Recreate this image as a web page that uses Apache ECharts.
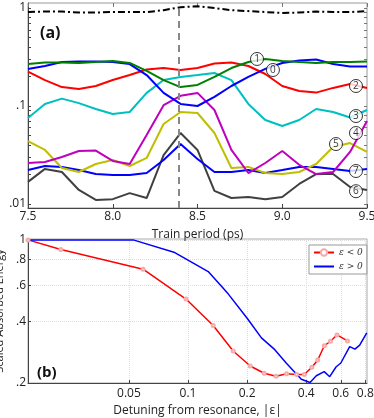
<!DOCTYPE html>
<html>
<head>
<meta charset="utf-8">
<script src="https://cdn.jsdelivr.net/npm/echarts@6/dist/echarts.min.js"></script>
<style>
html, body { margin: 0; padding: 0; background: #fff; }
#chart { width: 374px; height: 418px; }
</style>
</head>
<body>
<div id="chart"></div>
<script>
// ---- panel (a): rotational populations vs train period ----
const periods = [7.5, 7.6, 7.7, 7.8, 7.9, 8.0, 8.1, 8.2, 8.3, 8.4, 8.5, 8.6, 8.7, 8.8, 8.9, 9.0, 9.1, 9.2, 9.3, 9.4, 9.5];
const popTotal = [0.91, 0.92, 0.92, 0.90, 0.90, 0.91, 0.91, 0.91, 0.95, 1.02, 1.04, 1.0, 0.95, 0.93, 0.91, 0.89, 0.90, 0.92, 0.91, 0.91, 0.93];
const popJ0 = [0.239, 0.256, 0.281, 0.285, 0.285, 0.281, 0.268, 0.207, 0.136, 0.105, 0.100, 0.124, 0.160, 0.198, 0.239, 0.275, 0.291, 0.298, 0.268, 0.253, 0.253];
const popJ1 = [0.268, 0.278, 0.278, 0.275, 0.281, 0.288, 0.275, 0.228, 0.184, 0.156, 0.164, 0.198, 0.244, 0.281, 0.302, 0.288, 0.281, 0.275, 0.281, 0.281, 0.285];
const popJ2 = [0.224, 0.184, 0.156, 0.149, 0.160, 0.184, 0.207, 0.236, 0.244, 0.233, 0.244, 0.271, 0.278, 0.256, 0.212, 0.160, 0.142, 0.137, 0.153, 0.168, 0.153];
const popJ3 = [0.0755, 0.105, 0.119, 0.107, 0.0932, 0.0829, 0.0869, 0.136, 0.184, 0.198, 0.207, 0.217, 0.184, 0.105, 0.072, 0.0625, 0.072, 0.0932, 0.0869, 0.0763, 0.091];
const popJ4 = [0.0262, 0.0268, 0.0302, 0.0347, 0.0351, 0.0275, 0.0256, 0.0506, 0.102, 0.127, 0.136, 0.091, 0.0356, 0.0207, 0.0262, 0.0347, 0.0251, 0.0202, 0.0212, 0.034, 0.0703];
const popJ5 = [0.0439, 0.0356, 0.0233, 0.0212, 0.0256, 0.0281, 0.0244, 0.0295, 0.0655, 0.0869, 0.0848, 0.053, 0.0233, 0.0239, 0.0207, 0.0202, 0.0212, 0.0256, 0.0382, 0.0419, 0.034];
const popJ6 = [0.0168, 0.0228, 0.0212, 0.0139, 0.011, 0.0112, 0.0129, 0.0115, 0.0316, 0.053, 0.0356, 0.0136, 0.0115, 0.0118, 0.0112, 0.0118, 0.016, 0.0202, 0.0202, 0.0149, 0.0139];
const popJ7 = [0.0222, 0.0244, 0.0239, 0.0222, 0.0202, 0.0198, 0.0198, 0.0207, 0.0281, 0.041, 0.0288, 0.0212, 0.0212, 0.0222, 0.0207, 0.0222, 0.0239, 0.0239, 0.0228, 0.0217, 0.0228];
// circled J labels: [text, period, population]
const levelTags = [
  ['1', 8.851, 0.302], ['0', 8.945, 0.233], ['2', 9.435, 0.160], ['3', 9.435, 0.079],
  ['4', 9.435, 0.053], ['5', 9.317, 0.0409], ['7', 9.435, 0.0217], ['6', 9.435, 0.0135]
];
const markedPeriod = 8.39;
const popTicks = [0.01, 0.02, 0.03, 0.04, 0.05, 0.06, 0.07, 0.08, 0.09, 0.1, 0.2, 0.3, 0.4, 0.5, 0.6, 0.7, 0.8, 0.9, 1];
const popLabels = [0.01, 0.1, 1];

// ---- panel (b): scaled absorbed energy vs detuning ----
const detuneNeg = [0.0153, 0.0225, 0.059, 0.0976, 0.1343, 0.1698, 0.2075, 0.2441, 0.2809, 0.3177, 0.3573, 0.3909, 0.4272, 0.4577, 0.4946, 0.5318, 0.574, 0.6491];
const energyNeg = [1.0, 0.897, 0.719, 0.514, 0.382, 0.2867, 0.2422, 0.2231, 0.2157, 0.2218, 0.2199, 0.2199, 0.2389, 0.2592, 0.304, 0.3198, 0.3433, 0.3209];
const detunePos = [0.0153, 0.0525, 0.0856, 0.1267, 0.1601, 0.2005, 0.2365, 0.2767, 0.317, 0.3777, 0.4183, 0.4503, 0.494, 0.527, 0.5672, 0.6003, 0.6661, 0.7085, 0.7488, 0.8138];
const energyPos = [1.0, 1.0, 0.867, 0.700, 0.545, 0.4133, 0.332, 0.291, 0.2496, 0.2085, 0.2011, 0.2169, 0.2272, 0.2147, 0.2394, 0.2504, 0.3009, 0.2926, 0.306, 0.3519];
const detuneTicks = [0.05, 0.1, 0.2, 0.4, 0.6, 0.8];
const energyTicks = [0.2, 0.4, 0.6, 0.8, 1];

const FONT = 'Open Sans';

function pairs(xs, ys) {
  return xs.map((x, i) => [x, ys[i]]);
}

function dropZero(v) {
  return String(+(+v).toPrecision(2)).replace(/^0\./, '.');
}

function popLine(name, values, color, extra) {
  return Object.assign({
    name: name,
    type: 'line',
    xAxisIndex: 0,
    yAxisIndex: 0,
    showSymbol: false,
    symbol: 'none',
    silent: true,
    lineStyle: { color: color, width: 2 },
    data: pairs(periods, values)
  }, extra || {});
}

const chart = echarts.init(document.getElementById('chart'));

const option = {
  animation: false,
  textStyle: { fontFamily: FONT },
  grid: [
    { left: 28, top: 3, width: 339, height: 205, containLabel: false, outerBoundsMode: 'none', show: true, borderColor: '#999', borderWidth: 1 },
    { left: 28, top: 239, width: 339, height: 144, containLabel: false, outerBoundsMode: 'none', show: true, borderColor: '#aaa', borderWidth: 1 }
  ],
  title: [
    { text: '(a)', left: 35, top: 20, textStyle: { fontFamily: FONT, fontSize: 16, fontWeight: 'bold', color: '#111' } },
    { text: '(b)', left: 32, top: 360, textStyle: { fontFamily: FONT, fontSize: 15, fontWeight: 'bold', color: '#111' } }
  ],
  legend: {
    data: ['ε < 0', 'ε > 0'],
    left: 309,
    top: 245,
    orient: 'vertical',
    itemWidth: 20,
    itemHeight: 8,
    itemGap: 5,
    padding: [3, 4],
    borderColor: '#999',
    borderWidth: 1,
    backgroundColor: '#fff',
    textStyle: { fontFamily: 'DejaVu Serif', fontStyle: 'italic', fontSize: 9, color: '#333' }
  },
  xAxis: [
    {
      gridIndex: 0, type: 'value', min: 7.5, max: 9.5, interval: 0.5,
      name: 'Train period (ps)', nameLocation: 'middle', nameGap: 21,
      nameTextStyle: { fontSize: 12, color: '#222' },
      axisLine: { show: true, lineStyle: { color: '#444' } },
      axisTick: { inside: true, length: 4, lineStyle: { color: '#444' } },
      axisLabel: { margin: 3, fontSize: 12, color: '#222', formatter: v => v.toFixed(1) },
      splitLine: { show: false }
    },
    {
      gridIndex: 0, type: 'value', min: 7.5, max: 9.5, interval: 0.5, position: 'top',
      axisLine: { show: false },
      axisTick: { inside: true, length: 4, lineStyle: { color: '#777' } },
      axisLabel: { show: false },
      splitLine: { show: false }
    },
    {
      gridIndex: 1, type: 'log', min: 0.0153, max: 0.816,
      name: 'Detuning from resonance, |ε|', nameLocation: 'middle', nameGap: 22,
      nameTextStyle: { fontSize: 12, color: '#222' },
      axisLine: { show: true, lineStyle: { color: '#444' } },
      axisTick: { inside: true, length: 3, customValues: detuneTicks, lineStyle: { color: '#444' } },
      axisLabel: { margin: 5, fontSize: 12, color: '#222', customValues: detuneTicks, formatter: v => String(+(+v).toPrecision(2)) },
      splitLine: { show: true, lineStyle: { color: '#ddd', type: 'dotted' } }
    }
  ],
  yAxis: [
    {
      gridIndex: 0, type: 'log', min: 0.0091, max: 1.125,
      name: 'Rotational Population', nameLocation: 'middle', nameGap: 19,
      nameTextStyle: { fontSize: 11, color: '#222' },
      axisLine: { show: true, lineStyle: { color: '#444' } },
      axisTick: { inside: true, length: 3, customValues: popTicks, lineStyle: { color: '#444' } },
      axisLabel: { margin: 2, fontSize: 12, color: '#222', customValues: popLabels, formatter: dropZero },
      splitLine: { show: false }
    },
    {
      gridIndex: 0, type: 'log', min: 0.0091, max: 1.125, position: 'right',
      axisLine: { show: false },
      axisTick: { inside: true, length: 3, customValues: popTicks, lineStyle: { color: '#777' } },
      axisLabel: { show: false },
      splitLine: { show: false }
    },
    {
      gridIndex: 1, type: 'log', min: 0.2, max: 1.01,
      name: 'Scaled Absorbed Energy', nameLocation: 'middle', nameGap: 17,
      nameTextStyle: { fontSize: 11, color: '#222' },
      axisLine: { show: true, lineStyle: { color: '#444' } },
      axisTick: { inside: true, length: 3, customValues: energyTicks, lineStyle: { color: '#444' } },
      axisLabel: { margin: 2, fontSize: 12, color: '#222', customValues: energyTicks, formatter: dropZero },
      splitLine: { show: true, lineStyle: { color: '#ddd', type: 'dotted' } }
    }
  ],
  series: [
    popLine('total', popTotal, '#000', {
      lineStyle: { color: '#000', width: 2, type: [7, 3, 2, 3] },
      markLine: {
        symbol: 'none', silent: true, label: { show: false },
        lineStyle: { color: '#888', width: 2, type: [7, 5] },
        data: [{ xAxis: markedPeriod }]
      }
    }),
    popLine('J6', popJ6, '#404040'),
    popLine('J7', popJ7, '#0000ff'),
    popLine('J5', popJ5, '#bfbf00'),
    popLine('J4', popJ4, '#bf00bf'),
    popLine('J3', popJ3, '#00bfbf'),
    popLine('J2', popJ2, '#ff0000'),
    popLine('J0', popJ0, '#0000ff'),
    popLine('J1', popJ1, '#008000'),
    {
      name: 'tags',
      type: 'scatter',
      xAxisIndex: 0,
      yAxisIndex: 0,
      silent: true,
      z: 10,
      symbol: 'circle',
      symbolSize: 13,
      itemStyle: { color: '#fff', borderColor: '#000', borderWidth: 1 },
      label: { show: true, position: 'inside', fontSize: 10, color: '#000', formatter: p => p.data[2] },
      data: levelTags.map(t => [t[1], t[2], t[0]])
    },
    {
      name: 'ε < 0',
      type: 'line',
      xAxisIndex: 2,
      yAxisIndex: 2,
      symbol: 'emptyCircle',
      symbolSize: 3,
      silent: true,
      lineStyle: { color: '#ff0000', width: 1.5 },
      itemStyle: { color: '#f7a8a8', borderColor: '#f7a8a8', borderWidth: 1 },
      data: pairs(detuneNeg, energyNeg)
    },
    {
      name: 'ε > 0',
      type: 'line',
      xAxisIndex: 2,
      yAxisIndex: 2,
      symbol: 'path://M0,0L10,10M10,0L0,10',
      symbolSize: 4,
      showSymbol: false,
      silent: true,
      lineStyle: { color: '#0000ff', width: 1.5 },
      itemStyle: { color: '#0000ff', borderColor: '#0000ff' },
      data: pairs(detunePos, energyPos)
    }
  ]
};

chart.setOption(option);
</script>
</body>
</html>
